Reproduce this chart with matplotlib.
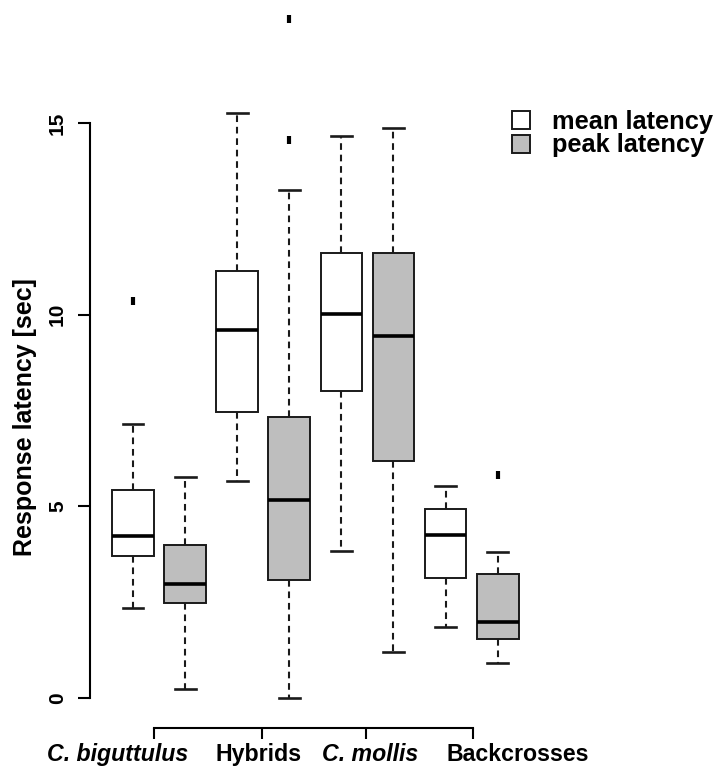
import matplotlib
matplotlib.use("Agg")
import matplotlib.pyplot as plt
from matplotlib.patches import Patch

plt.rcParams["font.family"] = ["Liberation Sans", "DejaVu Sans"]
plt.rcParams["font.weight"] = "bold"

groups = ["C. biguttulus", "Hybrids", "C. mollis", "Backcrosses"]
italic = [True, False, True, False]

# five-number summaries: whislo, q1, med, q3, whishi
mean_stats = [
    [2.33, 3.71, 4.23, 5.43, 7.16],
    [5.66, 7.45, 9.60, 11.15, 15.26],
    [3.82, 8.00, 10.03, 11.60, 14.68],
    [1.84, 3.12, 4.24, 4.93, 5.54],
]
mean_fliers = [[10.36], [], [], []]

peak_stats = [
    [0.24, 2.47, 2.97, 3.99, 5.76],
    [0.00, 3.08, 5.17, 7.33, 13.26],
    [1.19, 6.17, 9.44, 11.61, 14.87],
    [0.90, 1.54, 1.98, 3.22, 3.80],
]
peak_fliers = [[], [14.56, 17.73], [], [5.82]]

group_ticks = [1.40, 3.47, 5.47, 7.53]
label_x = [0.70, 3.41, 5.55, 8.39]
y_ticks = [0, 5, 10, 15]

EDGE = "#1a1a1a"
GREY = "#BEBEBE"


def _stats(rows, fliers):
    out = []
    for (lo, q1, med, q3, hi), fl in zip(rows, fliers):
        out.append({"whislo": lo, "q1": q1, "med": med, "q3": q3, "whishi": hi, "fliers": fl})
    return out


fig = plt.figure(figsize=(7.16, 7.74), dpi=100)
ax = fig.add_axes([90 / 716, (774 - 727.7) / 774, 626 / 716, 727.7 / 774])

common = dict(
    widths=0.8,
    patch_artist=True,
    whiskerprops=dict(color=EDGE, linewidth=1.5, linestyle=(0, (3.2, 2.3))),
    capprops=dict(color=EDGE, linewidth=1.9),
    medianprops=dict(color="black", linewidth=2.6),
    flierprops=dict(marker="|", markersize=6, markeredgewidth=3, markeredgecolor="black"),
)
ax.bxp(_stats(mean_stats, mean_fliers), positions=[1, 3, 5, 7],
       boxprops=dict(facecolor="white", edgecolor=EDGE, linewidth=1.4), **common)
ax.bxp(_stats(peak_stats, peak_fliers), positions=[2, 4, 6, 8],
       boxprops=dict(facecolor=GREY, edgecolor=EDGE, linewidth=1.4), **common)

ax.set_xlim(0.1747, 12.19)
ax.set_ylim(-0.7835, 18.22)

for side in ["top", "right"]:
    ax.spines[side].set_visible(False)
ax.spines["left"].set_bounds(0, 15)
ax.spines["bottom"].set_bounds(group_ticks[0], group_ticks[-1])
ax.spines["left"].set_linewidth(1.5)
ax.spines["bottom"].set_linewidth(1.5)

ax.set_yticks(y_ticks)
ax.set_yticklabels([str(v) for v in y_ticks], rotation=90, va="center", fontsize=15)
ax.tick_params(axis="y", direction="out", length=8.6, width=1.5, pad=8)
ax.set_xticks(group_ticks)
ax.set_xticklabels([""] * len(group_ticks))
ax.tick_params(axis="x", direction="out", length=7.7, width=1.5)

for x, name, it in zip(label_x, groups, italic):
    ax.text(x, -(761 - 727.7) / 727.7, name, transform=ax.get_xaxis_transform(),
            ha="center", va="baseline", fontsize=16.7, style="italic" if it else "normal")

ax.set_ylabel("Response latency [sec]", fontsize=18, fontweight="bold")
ax.yaxis.set_label_coords(-53 / 626, (727.7 - 417.5) / 727.7)

handles = [Patch(facecolor="white", edgecolor=EDGE, linewidth=1.4),
           Patch(facecolor=GREY, edgecolor=EDGE, linewidth=1.4)]
ax.legend(handles, ["mean latency", "peak latency"], loc="upper left", frameon=False,
          bbox_to_anchor=(512 / 716, 1 - 110 / 774), bbox_transform=fig.transFigure,
          fontsize=18.3, handlelength=0.72, handleheight=0.72, handletextpad=0.85,
          labelspacing=-0.02, borderpad=0, borderaxespad=0)

fig.savefig("out.png", dpi=100)
